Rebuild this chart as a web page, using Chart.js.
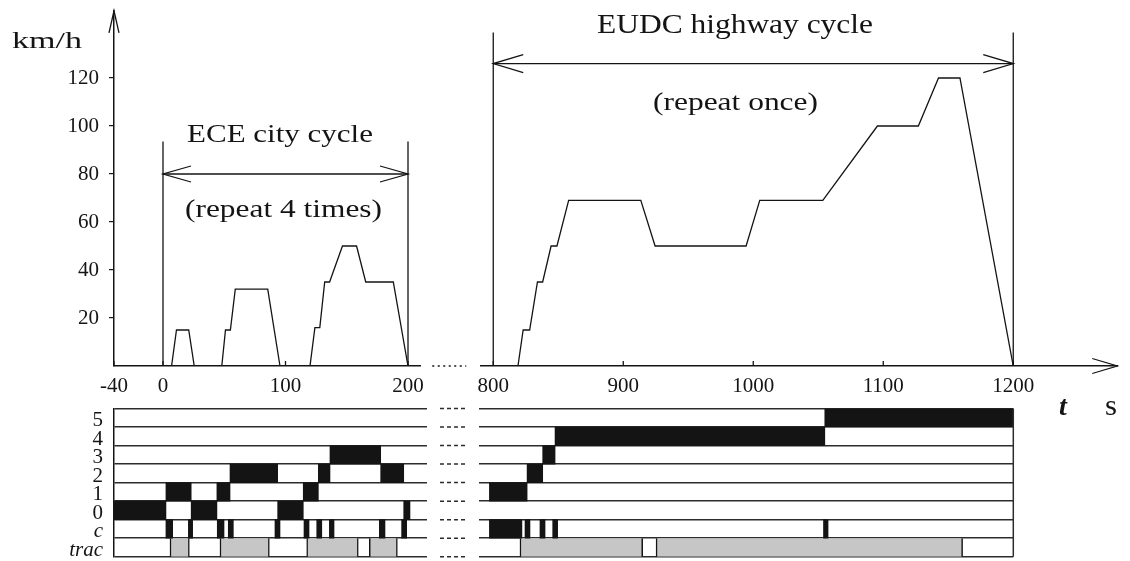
<!DOCTYPE html>
<html>
<head>
<meta charset="utf-8">
<title>NEDC drive cycle and gear schedule</title>
<script src="https://cdn.jsdelivr.net/npm/chart.js@4.4.1/dist/chart.umd.min.js"></script>
<style>
  html, body { margin: 0; padding: 0; background: #fff; }
  #wrap { position: relative; width: 1130px; height: 561px; }
  #wrap canvas { position: absolute; left: 0; top: 0; }
  .fontprobe { position: absolute; left: -9999px; top: 0; font-family: "Liberation Serif"; }
</style>
</head>
<body>
<span class="fontprobe">km/h <i>trac</i> <b><i>t</i></b></span>
<div id="wrap">
  <canvas id="speed-ece" width="1130" height="561"></canvas>
  <canvas id="speed-eudc" width="1130" height="561"></canvas>
  <canvas id="gear-ece" width="1130" height="561"></canvas>
  <canvas id="gear-eudc" width="1130" height="561"></canvas>
</div>
<script>
// ---- data ------------------------------------------------------------
const speedTicks = [20, 40, 60, 80, 100, 120];
const eceTicks   = [-40, 0, 100, 200];
const eudcTicks  = [800, 900, 1000, 1100, 1200];
const gearRows   = ['5', '4', '3', '2', '1', '0', 'c', 'trac'];

// speed profile, s / km/h
const eceTime   = [0, 7, 11, 21, 25.5, 48, 51, 55, 59, 85.5, 95.5, 120, 124, 128, 132, 136, 146.5, 158, 165.5, 188, 200];
const eceSpeed  = [0, 0, 15, 15, 0,    0,  15, 15, 32, 32,   0,    0,   16,  16,  35,  35,  50,    50,  35,    35,  0];
const eudcTime  = [800, 819, 823, 828, 834, 838, 844.5, 849, 858, 913.5, 924.5, 994.5, 1005, 1053.5, 1095.5, 1127, 1142.5, 1159, 1200];
const eudcSpeed = [0,   0,   15,  15,  35,  35,  50,    50,  69,  69,    50,    50,    69,   69,     100,    100,  120,    120,  0];

const eceSpan  = [0, 200];
const eudcSpan = [800, 1200];

// gear occupancy [row, from, to]; clutch and traction [from, to]
const eceGearSpans = [['0', -40, 2.4], ['1', 2.4, 23], ['0', 23, 44], ['1', 44, 54.7], ['2', 54.7, 93.6],
  ['0', 93.6, 114.5], ['1', 114.5, 126.8], ['2', 126.8, 136.3], ['3', 136.3, 177.7], ['2', 177.7, 196.5], ['0', 196.5, 201.6]];
const eceClutchSpans = [[2.4, 7.9], [20.7, 24.2], [44.3, 49.8], [53.3, 57.4], [91.4, 95.5],
  [115.1, 119.2], [125.5, 129.6], [135.8, 139.6], [176.6, 181.2], [194.8, 198.9]];
const eceTracSpans = [[5.7, 21.5], [46.5, 86.8], [117.3, 159.4], [168.4, 191.3]];

const eudcGearSpans = [['1', 797, 826], ['2', 826, 838], ['3', 838, 847.5], ['4', 847.5, 1055], ['5', 1055, 1200]];
const eudcClutchSpans = [[797, 822], [824.4, 828.2], [835.9, 839.8], [845.7, 849.5], [1054, 1057.5]];
const eudcTracSpans = [[820.5, 914.9], [925.2, 1161]];

// ---- helpers ---------------------------------------------------------
const INK = '#141414';
const RULE = '#2c2c2c';
const SERIF = '"Liberation Serif", "Times New Roman", serif';
const W = 1130, H = 561;

function line(ctx, x1, y1, x2, y2) {
  ctx.beginPath(); ctx.moveTo(x1, y1); ctx.lineTo(x2, y2); ctx.stroke();
}

// open "V" arrow head, tip at (x, y), pointing along (dx, dy)
function arrowHead(ctx, x, y, dx, dy, len, half) {
  const nx = -dy, ny = dx;
  ctx.beginPath();
  ctx.moveTo(x - dx * len + nx * half, y - dy * len + ny * half);
  ctx.lineTo(x, y);
  ctx.lineTo(x - dx * len - nx * half, y - dy * len - ny * half);
  ctx.stroke();
}

// text squeezed/stretched horizontally to a given width
function wideText(ctx, text, x, y, size, width, style) {
  ctx.save();
  ctx.font = (style || '') + ' ' + size + 'px ' + SERIF;
  ctx.textAlign = 'left'; ctx.textBaseline = 'alphabetic';
  const w = ctx.measureText(text).width;
  ctx.translate(x, y);
  if (width) ctx.scale(width / w, 1);
  ctx.fillText(text, 0, 0);
  ctx.restore();
}

const fixedTicks = list => s => { s.ticks = list.map(value => ({ value })); };

// pin an axis box to an exact size and drop the label overhang padding
const pinBox = size => s => {
  if (s.isHorizontal()) s.height = size; else s.width = size;
  s.paddingTop = s.paddingBottom = s.paddingLeft = s.paddingRight = 0;
};

const common = {
  responsive: false,
  animation: false,
  devicePixelRatio: 1,
  events: [],
  plugins: { legend: { display: false }, tooltip: { enabled: false } }
};

const tickFont = { family: SERIF, size: 21 };

function drawAll() {
  Chart.defaults.font.family = SERIF;

  // ---- speed: ECE city part -----------------------------------------
  const eceSpeedDecor = {
    id: 'eceSpeedDecor',
    afterDraw(chart) {
      const { ctx, scales: { x, y } } = chart;
      ctx.save();
      ctx.strokeStyle = INK; ctx.fillStyle = INK; ctx.lineWidth = 1.3;
      arrowHead(ctx, x.left, y.top, 0, -1, 22, 5);
      eceTicks.forEach(v => {
        const px = x.getPixelForValue(v);
        line(ctx, px, y.bottom, px, y.bottom - 5);
      });
      const p0 = x.getPixelForValue(eceSpan[0]), p1 = x.getPixelForValue(eceSpan[1]);
      const top = y.getPixelForValue(93.5), ya = y.getPixelForValue(80);
      line(ctx, p0, y.bottom, p0, top);
      line(ctx, p1, y.bottom, p1, top);
      line(ctx, p0, ya, p1, ya);
      arrowHead(ctx, p0, ya, -1, 0, 28, 8);
      arrowHead(ctx, p1, ya, 1, 0, 28, 8);
      // axis break
      ctx.setLineDash([2, 3.5]);
      line(ctx, x.right + 12, y.bottom, x.right + 46, y.bottom);
      ctx.setLineDash([]);
      wideText(ctx, 'km/h', 12, 48, 24, 70);
      wideText(ctx, 'ECE city cycle', 187, 142, 26, 186);
      wideText(ctx, '(repeat 4 times)', 185, 217, 26, 197);
      ctx.restore();
    }
  };

  new Chart(document.getElementById('speed-ece'), {
    type: 'line',
    data: {
      datasets: [{
        data: eceTime.map((t, i) => ({ x: t, y: eceSpeed[i] })),
        borderColor: INK, borderWidth: 1.3, pointRadius: 0, tension: 0
      }]
    },
    options: {
      ...common,
      layout: { padding: { top: 10.8, right: W - 420.25, bottom: 0, left: 0 } },
      scales: {
        x: {
          type: 'linear', min: -40, max: 210,
          afterBuildTicks: fixedTicks(eceTicks),
          afterFit: pinBox(H - 366),
          grid: { display: false },
          border: { color: INK, width: 1.5 },
          ticks: { color: INK, font: tickFont, padding: 0, maxRotation: 0, autoSkip: false, callback: v => String(v) }
        },
        y: {
          min: 0, max: 148,
          afterBuildTicks: fixedTicks(speedTicks),
          afterFit: pinBox(114),
          grid: { drawOnChartArea: false, tickLength: 5, color: INK, lineWidth: 1.2 },
          border: { color: INK, width: 1.5 },
          ticks: { color: INK, font: tickFont, padding: 10, callback: v => String(v) }
        }
      }
    },
    plugins: [eceSpeedDecor]
  });

  // ---- speed: EUDC highway part -------------------------------------
  const eudcSpeedDecor = {
    id: 'eudcSpeedDecor',
    afterDraw(chart) {
      const { ctx, scales: { x, y } } = chart;
      ctx.save();
      ctx.strokeStyle = INK; ctx.fillStyle = INK; ctx.lineWidth = 1.3;
      arrowHead(ctx, x.right, y.bottom, 1, 0, 25, 7.5);
      eudcTicks.forEach(v => {
        const px = x.getPixelForValue(v);
        line(ctx, px, y.bottom, px, y.bottom - 5);
      });
      const p0 = x.getPixelForValue(eudcSpan[0]), p1 = x.getPixelForValue(eudcSpan[1]);
      const top = y.getPixelForValue(139), ya = y.getPixelForValue(126);
      line(ctx, p0, y.bottom, p0, top);
      line(ctx, p1, y.bottom, p1, top);
      line(ctx, p0, ya, p1, ya);
      arrowHead(ctx, p0, ya, -1, 0, 30, 9);
      arrowHead(ctx, p1, ya, 1, 0, 30, 9);
      wideText(ctx, 'EUDC highway cycle', 597, 33, 27, 276);
      wideText(ctx, '(repeat once)', 653, 110, 26, 165);
      wideText(ctx, 't', 1059, 415, 28, null, 'italic bold');
      wideText(ctx, 's', 1105, 415, 29, 12);
      ctx.restore();
    }
  };

  new Chart(document.getElementById('speed-eudc'), {
    type: 'line',
    data: {
      datasets: [{
        data: eudcTime.map((t, i) => ({ x: t, y: eudcSpeed[i] })),
        borderColor: INK, borderWidth: 1.3, pointRadius: 0, tension: 0
      }]
    },
    options: {
      ...common,
      layout: { padding: { top: 10.8, right: W - 1117.25, bottom: 0, left: 480.25 } },
      scales: {
        x: {
          type: 'linear', min: 790, max: 1280,
          afterBuildTicks: fixedTicks(eudcTicks),
          afterFit: pinBox(H - 366),
          grid: { display: false },
          border: { color: INK, width: 1.5 },
          ticks: { color: INK, font: tickFont, padding: 0, maxRotation: 0, autoSkip: false, callback: v => String(v) }
        },
        y: { min: 0, max: 148, display: false }
      }
    },
    plugins: [eudcSpeedDecor]
  });

  // ---- gear schedule ------------------------------------------------
  function gearDatasets(gearSpans, clutchSpans, tracSpans) {
    const bar = { grouped: false, barPercentage: 1, categoryPercentage: 1 };
    return [
      { ...bar, data: gearSpans.map(([r, a, b]) => ({ y: r, x: [a, b] })), backgroundColor: INK, borderWidth: 0 },
      { ...bar, data: clutchSpans.map(([a, b]) => ({ y: 'c', x: [a, b] })), backgroundColor: INK, borderWidth: 0 },
      {
        ...bar, data: tracSpans.map(([a, b]) => ({ y: 'trac', x: [a, b] })),
        backgroundColor: '#c6c6c6', borderColor: INK,
        borderWidth: { left: 1.5, right: 1.5, top: 0, bottom: 0 }, borderSkipped: false
      }
    ];
  }

  const rowGrid = { color: RULE, lineWidth: 1.5, drawTicks: false, offset: true };

  const eceGearDecor = {
    id: 'eceGearDecor',
    afterDraw(chart) {
      const { ctx, scales: { x, y } } = chart;
      ctx.save();
      ctx.strokeStyle = RULE; ctx.lineWidth = 1.5;
      ctx.setLineDash([4, 3]);
      for (let i = 0; i <= gearRows.length; i++) {
        const yy = y.top + (y.bottom - y.top) * i / gearRows.length;
        line(ctx, x.right + 13, yy, x.right + 40, yy);
      }
      ctx.restore();
    }
  };

  new Chart(document.getElementById('gear-ece'), {
    type: 'bar',
    data: { labels: gearRows, datasets: gearDatasets(eceGearSpans, eceClutchSpans, eceTracSpans) },
    options: {
      ...common,
      indexAxis: 'y',
      layout: { padding: { top: 408.5, right: W - 427, bottom: H - 556.7, left: 0 } },
      scales: {
        x: { type: 'linear', min: -40, max: 215.5, display: false },
        y: {
          afterFit: pinBox(114),
          grid: rowGrid,
          border: { display: true, color: INK, width: 1.5 },
          ticks: {
            color: INK, padding: 11, autoSkip: false, labelOffset: 3,
            font: c => ({ family: SERIF, size: 21, style: c.index >= 6 ? 'italic' : 'normal' })
          }
        }
      }
    },
    plugins: [eceGearDecor]
  });

  const eudcGearDecor = {
    id: 'eudcGearDecor',
    afterDraw(chart) {
      const { ctx, scales: { x, y } } = chart;
      ctx.save();
      ctx.strokeStyle = RULE; ctx.lineWidth = 1.5;
      const px = x.getPixelForValue(eudcSpan[1]);
      line(ctx, px, y.top, px, y.bottom);
      ctx.restore();
    }
  };

  new Chart(document.getElementById('gear-eudc'), {
    type: 'bar',
    data: { labels: gearRows, datasets: gearDatasets(eudcGearSpans, eudcClutchSpans, eudcTracSpans) },
    options: {
      ...common,
      indexAxis: 'y',
      layout: { padding: { top: 408.5, right: W - 1013.3, bottom: H - 556.7, left: 0 } },
      scales: {
        x: { type: 'linear', min: 789, max: 1200, display: false },
        y: {
          afterFit: pinBox(479),
          grid: rowGrid,
          border: { display: false },
          ticks: { display: false }
        }
      }
    },
    plugins: [eudcGearDecor]
  });
}

// make sure the serif face is ready before the canvases use it
Promise.all([
  document.fonts.load('21px "Liberation Serif"'),
  document.fonts.load('italic 21px "Liberation Serif"'),
  document.fonts.load('italic bold 28px "Liberation Serif"')
]).then(drawAll, drawAll);
</script>
</body>
</html>
